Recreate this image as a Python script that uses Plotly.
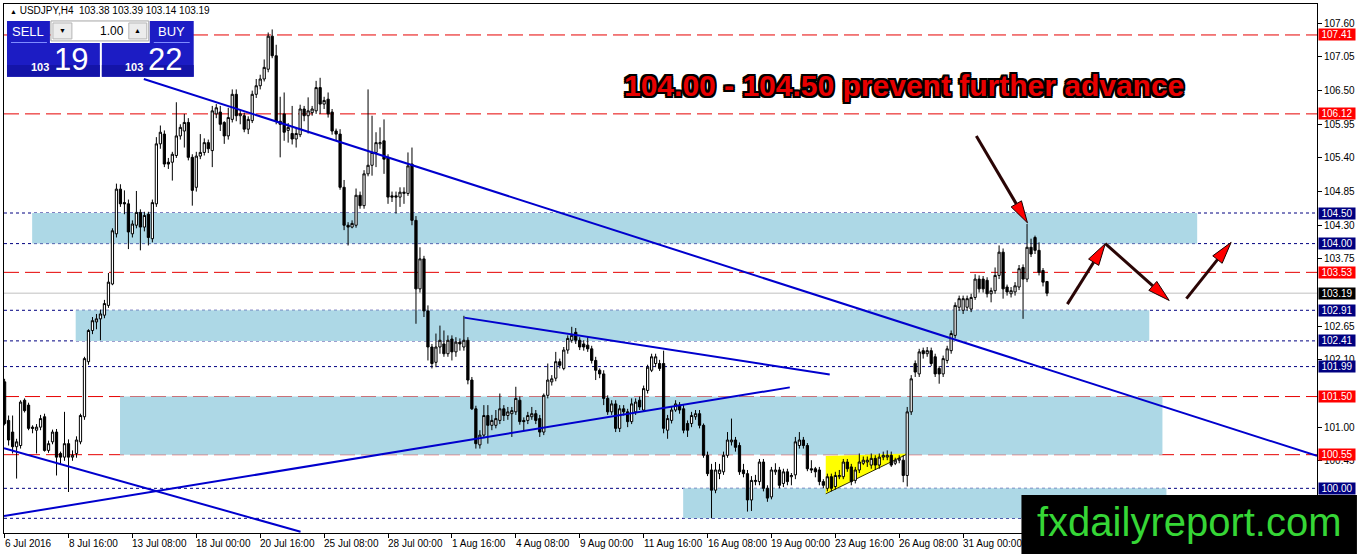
import plotly.graph_objects as go

# USDJPY H4, 6 Jul 2016 00:00 .. 5 Sep 2016 12:00
opens = [
    101.74, 101.11, 100.92, 100.68, 100.70, 101.44, 101.36, 101.00, 100.95, 101.00,
    101.17, 100.62, 100.76, 100.92, 100.57, 100.51, 100.73, 100.51, 100.57, 100.76,
    101.17, 102.07, 102.58, 102.72, 102.77, 102.83, 102.99, 103.34, 104.16, 104.89,
    104.67, 104.65, 104.16, 104.30, 104.51, 104.27, 104.48, 104.08, 104.65, 105.63,
    105.79, 105.33, 105.33, 105.44, 105.76, 105.84, 105.98, 105.41, 104.92, 105.43,
    105.49, 105.65, 105.52, 106.12, 106.15, 105.98, 105.76, 106.03, 106.44, 106.09,
    106.09, 105.87, 106.01, 106.44, 106.58, 106.69, 106.85, 107.39, 107.07, 106.00,
    106.12, 105.85, 105.80, 105.71, 105.78, 106.20, 106.09, 106.14, 106.17, 106.55,
    106.28, 106.36, 106.15, 105.84, 105.79, 104.92, 104.30, 104.27, 104.30, 104.79,
    104.62, 105.14, 105.28, 105.49, 105.63, 105.68, 105.41, 104.78, 104.78, 104.76,
    104.82, 104.82, 105.30, 104.38, 103.26, 103.75, 102.90, 102.31, 102.06, 102.31,
    102.36, 102.20, 102.44, 102.23, 102.39, 102.31, 102.42, 101.77, 101.30, 100.71,
    100.87, 101.19, 101.03, 101.03, 101.11, 101.30, 101.19, 101.22, 101.25, 101.44,
    101.11, 101.11, 101.17, 101.22, 101.14, 100.92, 101.52, 101.74, 101.80, 102.07,
    101.96, 102.26, 102.42, 102.55, 102.42, 102.36, 102.34, 102.28, 102.09, 101.93,
    101.87, 101.47, 101.25, 101.38, 100.98, 101.30, 101.25, 101.09, 101.25, 101.44,
    101.28, 101.60, 101.93, 102.04, 102.04, 102.04, 100.95, 101.11, 101.28, 101.36,
    101.30, 101.06, 101.06, 101.17, 101.22, 101.03, 100.54, 100.30, 99.97, 100.24,
    100.27, 100.54, 100.76, 100.79, 100.70, 100.30, 100.24, 99.81, 100.11, 100.11,
    100.43, 100.00, 99.86, 100.27, 100.30, 100.08, 100.27, 100.19, 100.22, 100.70,
    100.79, 100.70, 100.32, 100.32, 100.30, 100.11, 100.00, 100.19, 100.03, 100.19,
    100.19, 100.43, 100.35, 100.13, 100.30, 100.41, 100.43, 100.38, 100.49, 100.38,
    100.51, 100.51, 100.54, 100.41, 100.46, 100.46, 100.21, 101.25, 102.04, 101.87,
    102.25, 102.20, 102.25, 102.15, 101.96, 101.87, 102.09, 102.25, 102.50, 102.96,
    102.91, 102.96, 102.93, 103.12, 103.42, 103.42, 103.40, 103.18, 103.23, 103.48,
    103.86, 103.29, 103.18, 103.21, 103.29, 103.61, 103.42, 103.94, 104.10, 103.89,
    103.56, 103.38,
]
highs = [
    101.79, 101.19, 101.19, 100.81, 101.44, 101.47, 101.40, 101.03, 101.05, 101.20,
    101.22, 100.78, 100.96, 100.97, 100.60, 101.25, 100.80, 100.62, 100.85, 101.22,
    102.15, 102.60, 102.80, 102.85, 102.92, 103.08, 103.52, 104.25, 104.98, 104.97,
    104.87, 104.72, 104.38, 104.86, 104.56, 104.52, 104.52, 104.72, 105.74, 105.93,
    105.85, 105.40, 105.50, 106.31, 105.95, 106.12, 106.05, 105.46, 105.50, 105.79,
    105.72, 105.70, 106.25, 106.28, 106.25, 106.00, 106.22, 106.52, 106.52, 106.18,
    106.14, 106.08, 106.50, 106.69, 106.76, 107.01, 107.45, 107.50, 107.25, 106.40,
    106.47, 105.97, 106.25, 105.90, 106.27, 106.25, 106.39, 106.25, 106.66, 106.71,
    106.40, 106.47, 106.20, 105.88, 105.87, 105.04, 104.35, 104.38, 104.90, 104.85,
    105.20, 106.52, 106.09, 105.82, 105.90, 106.03, 105.46, 104.85, 104.85, 104.92,
    104.92, 105.49, 105.57, 104.45, 103.94, 103.80, 102.99, 102.36, 102.53, 102.66,
    102.58, 102.50, 102.50, 102.47, 102.45, 102.82, 102.47, 101.82, 101.35, 100.95,
    101.36, 101.36, 101.20, 101.28, 101.55, 101.36, 101.33, 101.33, 101.66, 101.50,
    101.16, 101.25, 101.33, 101.28, 101.20, 101.55, 102.04, 101.85, 102.23, 102.12,
    102.31, 102.50, 102.64, 102.62, 102.47, 102.42, 102.47, 102.33, 102.15, 101.96,
    101.93, 101.52, 101.44, 101.44, 101.36, 101.36, 101.30, 101.47, 101.47, 101.50,
    101.68, 102.02, 102.20, 102.20, 102.10, 102.25, 101.20, 101.33, 101.44, 101.41,
    101.36, 101.11, 101.25, 101.28, 101.28, 101.06, 100.60, 100.40, 100.43, 100.40,
    100.60, 100.92, 101.14, 100.84, 100.75, 100.40, 100.30, 100.20, 100.22, 100.48,
    100.48, 100.05, 100.35, 100.41, 100.35, 100.32, 100.32, 100.25, 100.84, 100.92,
    100.84, 100.74, 100.46, 100.35, 100.35, 100.15, 100.24, 100.24, 100.27, 100.30,
    100.48, 100.48, 100.40, 100.35, 100.57, 100.52, 100.52, 100.57, 100.54, 100.57,
    100.60, 100.62, 100.60, 100.50, 100.54, 100.54, 101.33, 101.85, 102.09, 102.28,
    102.30, 102.31, 102.30, 102.20, 102.00, 102.17, 102.33, 102.58, 103.04, 103.15,
    103.15, 103.15, 103.18, 103.50, 103.48, 103.47, 103.45, 103.28, 103.61, 103.97,
    103.92, 103.33, 103.29, 103.37, 103.65, 103.66, 104.32, 104.08, 104.13, 104.02,
    103.60, 103.39,
]
lows = [
    101.03, 100.70, 100.57, 100.16, 100.65, 101.24, 100.95, 100.90, 100.57, 100.95,
    100.60, 100.58, 100.72, 100.21, 100.40, 100.45, 99.94, 100.45, 100.50, 100.72,
    101.12, 102.02, 102.52, 102.60, 102.42, 102.78, 102.95, 103.32, 104.10, 104.60,
    104.48, 103.91, 104.10, 104.25, 103.89, 104.20, 103.97, 104.02, 104.60, 105.55,
    105.25, 105.22, 105.03, 105.40, 105.70, 105.57, 105.36, 104.62, 104.85, 105.38,
    105.44, 105.48, 105.25, 106.05, 105.84, 105.63, 105.70, 105.98, 106.00, 105.95,
    105.82, 105.79, 105.97, 106.38, 106.52, 106.65, 106.80, 107.03, 105.95, 105.41,
    105.68, 105.65, 105.62, 105.57, 105.74, 106.00, 105.80, 106.09, 106.12, 106.12,
    106.20, 106.06, 105.78, 105.68, 104.88, 104.22, 103.97, 104.25, 104.26, 104.57,
    104.57, 105.10, 105.11, 105.25, 105.55, 105.14, 104.65, 104.68, 104.49, 104.60,
    104.65, 104.78, 104.30, 102.69, 103.20, 102.80, 102.09, 101.96, 101.98, 102.20,
    102.15, 102.15, 102.09, 102.15, 102.25, 102.25, 101.70, 101.28, 100.65, 100.65,
    100.82, 100.73, 100.95, 100.98, 101.05, 101.10, 101.12, 100.84, 101.20, 101.04,
    100.95, 101.05, 101.12, 101.05, 100.84, 100.87, 101.47, 101.68, 101.75, 101.96,
    101.93, 102.20, 102.38, 102.36, 102.26, 102.25, 102.23, 102.04, 101.77, 101.80,
    101.36, 101.20, 101.20, 100.92, 100.92, 101.19, 101.00, 101.05, 101.20, 101.28,
    101.25, 101.55, 101.90, 101.98, 101.92, 100.90, 100.81, 101.06, 101.25, 101.22,
    100.90, 100.84, 101.00, 101.12, 100.98, 100.50, 100.20, 99.51, 99.92, 100.15,
    100.22, 100.50, 100.70, 100.60, 100.22, 100.18, 99.62, 99.63, 100.05, 100.05,
    99.95, 99.78, 99.82, 100.22, 100.00, 100.02, 100.05, 100.05, 100.15, 100.65,
    100.65, 100.28, 100.25, 100.18, 100.05, 100.00, 99.95, 99.95, 99.98, 100.15,
    100.15, 100.27, 100.05, 100.08, 100.25, 100.38, 100.35, 100.32, 100.30, 100.32,
    100.46, 100.46, 100.35, 100.38, 100.41, 100.10, 100.03, 101.20, 101.82, 101.82,
    102.12, 102.15, 102.00, 101.82, 101.71, 101.82, 102.04, 102.20, 102.45, 102.90,
    102.85, 102.90, 102.88, 103.08, 103.20, 103.20, 103.12, 103.04, 103.18, 103.42,
    103.10, 103.15, 103.12, 103.15, 103.24, 102.77, 103.37, 103.78, 103.83, 103.48,
    103.30, 103.14,
]
closes = [
    101.06, 100.79, 100.68, 100.76, 101.41, 101.27, 100.98, 100.98, 101.00, 101.14,
    100.62, 100.73, 100.92, 100.51, 100.51, 100.73, 100.51, 100.54, 100.79, 101.19,
    102.12, 102.58, 102.74, 102.77, 102.85, 103.02, 103.37, 104.21, 104.89, 104.65,
    104.65, 104.19, 104.32, 104.51, 104.27, 104.46, 104.10, 104.67, 105.63, 105.82,
    105.30, 105.30, 105.46, 105.76, 105.90, 105.98, 105.41, 104.87, 105.43, 105.49,
    105.65, 105.55, 106.17, 106.22, 105.95, 105.76, 106.06, 106.44, 106.09, 106.12,
    105.87, 106.03, 106.44, 106.58, 106.69, 106.88, 107.39, 107.07, 106.00, 105.95,
    105.82, 105.90, 105.71, 105.80, 106.20, 106.09, 106.17, 106.20, 106.55, 106.28,
    106.34, 106.12, 105.84, 105.79, 104.92, 104.30, 104.27, 104.33, 104.79, 104.62,
    105.14, 105.28, 105.49, 105.65, 105.65, 105.38, 104.76, 104.76, 104.76, 104.84,
    104.84, 105.27, 104.38, 103.26, 103.75, 102.90, 102.31, 102.04, 102.31, 102.42,
    102.20, 102.42, 102.23, 102.39, 102.36, 102.42, 101.77, 101.30, 100.73, 100.87,
    101.19, 101.03, 101.11, 101.14, 101.30, 101.19, 101.25, 101.27, 101.47, 101.09,
    101.09, 101.19, 101.22, 101.11, 100.92, 101.52, 101.77, 101.79, 102.07, 102.01,
    102.26, 102.45, 102.50, 102.42, 102.31, 102.31, 102.28, 102.09, 101.93, 101.87,
    101.47, 101.25, 101.38, 100.98, 101.30, 101.25, 101.09, 101.38, 101.41, 101.33,
    101.63, 101.98, 102.15, 102.15, 101.96, 100.98, 101.14, 101.28, 101.38, 101.28,
    100.95, 100.95, 101.19, 101.22, 101.03, 100.54, 100.24, 99.97, 100.30, 100.30,
    100.54, 100.79, 100.79, 100.67, 100.27, 100.24, 99.81, 100.13, 100.13, 100.43,
    100.00, 99.84, 100.30, 100.30, 100.05, 100.27, 100.11, 100.21, 100.76, 100.79,
    100.70, 100.32, 100.30, 100.27, 100.11, 100.05, 100.19, 100.00, 100.21, 100.21,
    100.43, 100.32, 100.11, 100.30, 100.43, 100.46, 100.46, 100.49, 100.38, 100.51,
    100.54, 100.54, 100.38, 100.46, 100.49, 100.21, 101.25, 101.79, 101.90, 102.23,
    102.20, 102.25, 102.04, 101.87, 101.87, 102.12, 102.28, 102.53, 102.99, 103.10,
    103.10, 103.10, 103.12, 103.42, 103.26, 103.26, 103.18, 103.23, 103.48, 103.86,
    103.26, 103.21, 103.23, 103.31, 103.59, 103.42, 103.94, 103.83, 103.89, 103.53,
    103.37, 103.19,
]

# one date label every 16 bars
date_labels = ["6 Jul 2016", "8 Jul 16:00", "13 Jul 08:00", "18 Jul 00:00", "20 Jul 16:00",
               "25 Jul 08:00", "28 Jul 00:00", "1 Aug 16:00", "4 Aug 08:00", "9 Aug 00:00",
               "11 Aug 16:00", "16 Aug 08:00", "19 Aug 00:00", "23 Aug 16:00", "26 Aug 08:00",
               "31 Aug 00:00"]
# scale ticks that are not hidden behind the level boxes
price_ticks = [107.60, 107.05, 106.50, 105.95, 105.40, 104.85, 104.30, 103.75,
               102.65, 102.10, 101.00, 100.45]

red_levels = [107.41, 106.12, 103.53, 101.50, 100.55]
blue_levels = [104.50, 104.00, 102.91, 102.41, 101.99, 100.00, 99.51]
bid = 103.19
ask = 103.22

# ---- layout geometry (pixels of the 1358x554 page)
W, H = 1358, 554
ML, MR, MT, MB = 3, 40, 3, 21
X_RANGE = [-0.15, 328.6]
Y_RANGE = [99.27, 107.916]
PW, PH = W - ML - MR, H - MT - MB
SX = PW / (X_RANGE[1] - X_RANGE[0])
SY = PH / (Y_RANGE[1] - Y_RANGE[0])
FONT = "Liberation Sans"
BLUE = "#0000cd"
RED = "#e60000"
NAVY = "#000080"


def fx(x):
    return (x - ML) / PW


def fy(y):
    return (H - MB - y) / PH


n = len(closes)
fig = go.Figure()
fig.add_trace(go.Candlestick(
    x=list(range(n)), open=opens, high=highs, low=lows, close=closes,
    increasing=dict(line=dict(color="black", width=1), fillcolor="white"),
    decreasing=dict(line=dict(color="black", width=1), fillcolor="black"),
    whiskerwidth=0, hoverinfo="skip", showlegend=False,
))

shapes = []
# support / resistance zones
zones = [(104.50, 104.00, 6.9, 298.6), (102.91, 102.41, 17.8, 286.6),
         (101.50, 100.55, 28.9, 289.9), (100.00, 99.51, 169.9, 290.9)]
for top, bot, i0, i1 in zones:
    shapes.append(dict(type="rect", xref="x", yref="y", x0=i0, x1=i1, y0=bot, y1=top,
                       fillcolor="#add8e6", line=dict(width=0), layer="below"))

# yellow wedge
shapes.append(dict(type="path", xref="x", yref="y", layer="below",
                   path="M 205.6 100.53 L 205.6 99.91 L 226.3 100.57 Z",
                   fillcolor="#ffff00", line=dict(width=0)))
shapes.append(dict(type="line", xref="x", yref="y", x0=205.6, y0=99.91, x1=226.3, y1=100.57,
                   line=dict(color="#333300", width=1), layer="below"))

for lv in red_levels:
    shapes.append(dict(type="line", xref="paper", yref="y", x0=0, x1=1, y0=lv, y1=lv,
                       line=dict(color=RED, width=1, dash="15px,6px"), layer="below"))
for lv in blue_levels:
    shapes.append(dict(type="line", xref="paper", yref="y", x0=0, x1=1, y0=lv, y1=lv,
                       line=dict(color=NAVY, width=1, dash="3px,3px"), layer="below"))
shapes.append(dict(type="line", xref="paper", yref="y", x0=0, x1=1, y0=bid, y1=bid,
                   line=dict(color="#c0c0c0", width=1), layer="below"))

# trend lines
trends = [(34.85, 106.69, 328.6, 100.53), (-0.15, 100.656, 74.1, 99.29),
          (-0.15, 99.547, 196.6, 101.65), (115.1, 102.79, 206.6, 101.86)]
for i0, p0, i1, p1 in trends:
    shapes.append(dict(type="line", xref="x", yref="y", x0=i0, y0=p0, x1=i1, y1=p1,
                       line=dict(color=BLUE, width=2)))


def arrow(i0, p0, i1, p1, hl=22, hw=6):
    dx, dy = (i1 - i0) * SX, -(p1 - p0) * SY
    d = (dx * dx + dy * dy) ** 0.5
    ux, uy = dx / d, dy / d
    bx, by = -ux * hl, -uy * hl
    nx, ny = -uy * hw, ux * hw
    bi, bp = i1 + bx / SX, p1 - by / SY
    li, lp = i1 + (bx + nx) / SX, p1 - (by + ny) / SY
    ri, rp = i1 + (bx - nx) / SX, p1 - (by - ny) / SY
    return [
        dict(type="line", xref="x", yref="y", x0=i0, y0=p0, x1=bi, y1=bp,
             line=dict(color="#2a0505", width=3)),
        dict(type="path", xref="x", yref="y",
             path=f"M {i1} {p1} L {li} {lp} L {ri} {rp} Z",
             fillcolor="#ff0000", line=dict(color="#1a0000", width=1)),
    ]


for a in [(243.3, 105.76, 256.1, 104.34), (266.1, 103.01, 275.6, 104.00),
          (275.6, 104.00, 291.6, 103.07), (295.9, 103.10, 307.1, 104.02)]:
    shapes += arrow(*a)


def box(x0, y0, x1, y1, fill, line=None):
    return dict(type="rect", xref="paper", yref="paper", x0=fx(x0), x1=fx(x1),
                y0=fy(y1), y1=fy(y0), fillcolor=fill,
                line=dict(width=1 if line else 0, color=line or fill))


# one-click trading panel
shapes += [
    box(6, 20, 49, 42, "#1c1cc4"), box(149, 20, 193, 42, "#1c1cc4"),
    box(6, 42, 99, 76, "#1c1cc4"), box(101, 42, 193, 76, "#1c1cc4"),
    box(6, 64, 99, 76, "#1414a8"), box(101, 64, 193, 76, "#1414a8"),
    box(10, 41, 46, 42, "#7f8cff"), box(153, 41, 189, 42, "#7f8cff"),
    box(50, 20, 148, 40, "white", "#a6a6a6"),
    box(52, 22, 71, 38, "#ececec", "#b5b5b5"), box(128, 22, 146, 38, "#ececec", "#b5b5b5"),
]
# watermark
shapes.append(box(1022, 495, 1358, 554, "black"))


def text(x, y, s, size, color, anchor="center", bold=False):
    return dict(xref="paper", yref="paper", x=fx(x), y=fy(y), text=s, showarrow=False,
                xanchor=anchor, yanchor="middle",
                font=dict(family=FONT, size=size, color=color,
                          weight="bold" if bold else "normal"))


b_big, a_big = f"{bid:.2f}".split("."), f"{ask:.2f}".split(".")
annotations = [
    text(7, 10, f"<span style='font-size:7px'>▲</span> USDJPY,H4  {opens[-1]:.2f} {highs[-1]:.2f} "
         f"{lows[-1]:.2f} {closes[-1]:.2f}", 10, "black", "left"),
    text(27, 31, "SELL", 13, "white"), text(171, 31, "BUY", 13, "white"),
    text(61.5, 30, "▼", 7, "black"), text(137, 30, "▲", 7, "black"),
    text(125, 30, "1.00", 12, "black", "right"),
    text(39, 66, b_big[0], 11, "white", bold=True), text(70, 59, b_big[1], 31, "white"),
    text(133, 66, a_big[0], 11, "white", bold=True), text(164, 59, a_big[1], 31, "white"),
    dict(xref="paper", yref="paper", x=fx(904), y=fy(85), showarrow=False,
         text="104.00 - 104.50 prevent further advance", xanchor="center", yanchor="middle",
         font=dict(family=FONT, size=30, color="#e80000", weight="bold",
                   shadow="2px 2px 0 #000, -2px -2px 0 #000, 2px -2px 0 #000, -2px 2px 0 #000,"
                          " 0 2px 0 #000, 2px 0 0 #000, 0 -2px 0 #000, -2px 0 0 #000")),
    text(1190, 522, "fxdailyreport.com", 40, "#36d636"),
]

# date labels start at their tick, as in the terminal
for k, lab in enumerate(date_labels):
    annotations.append(dict(xref="x", yref="paper", x=16 * k, y=0, yanchor="top", xanchor="left",
                            xshift=-2, yshift=-3, text=lab, showarrow=False,
                            font=dict(family=FONT, size=10, color="black")))

# price boxes on the scale
for lv in red_levels:
    annotations.append(dict(xref="paper", yref="y", x=1, y=lv, xanchor="left", xshift=1,
                            text=f"{lv:.2f}", showarrow=False, bgcolor="#ff0000", width=36, height=11,
                            borderpad=0, font=dict(family=FONT, size=10, color="white")))
for lv in blue_levels[:-1]:
    annotations.append(dict(xref="paper", yref="y", x=1, y=lv, xanchor="left", xshift=1,
                            text=f"{lv:.2f}", showarrow=False, bgcolor="#000080", width=36, height=11,
                            borderpad=0, font=dict(family=FONT, size=10, color="white")))
annotations.append(dict(xref="paper", yref="y", x=1, y=bid, xanchor="left", xshift=1,
                        text=f"{bid:.2f}", showarrow=False, bgcolor="black", width=36, height=11,
                        borderpad=0, font=dict(family=FONT, size=10, color="white")))

fig.update_layout(
    width=W, height=H, margin=dict(l=ML, r=MR, t=MT, b=MB),
    paper_bgcolor="white", plot_bgcolor="white",
    shapes=shapes, annotations=annotations, showlegend=False, boxgap=0.2,
    font=dict(family=FONT, size=10, color="black"),
    xaxis=dict(range=X_RANGE, rangeslider=dict(visible=False), showgrid=False, zeroline=False,
               tickvals=list(range(0, 329, 16)), showticklabels=False, ticks="outside",
               ticklen=4, tickcolor="black", showline=True, mirror=True, linecolor="black"),
    yaxis=dict(range=Y_RANGE, side="right", showgrid=False, zeroline=False,
               tickvals=price_ticks, ticktext=[f"{t:.2f}" for t in price_ticks],
               ticks="outside", ticklen=4, tickcolor="black",
               showline=True, mirror=True, linecolor="black",
               tickfont=dict(family=FONT, size=10, color="black")),
)

fig.write_html("out.html", config={"displayModeBar": False},
               post_script="document.body.style.margin='0';")
